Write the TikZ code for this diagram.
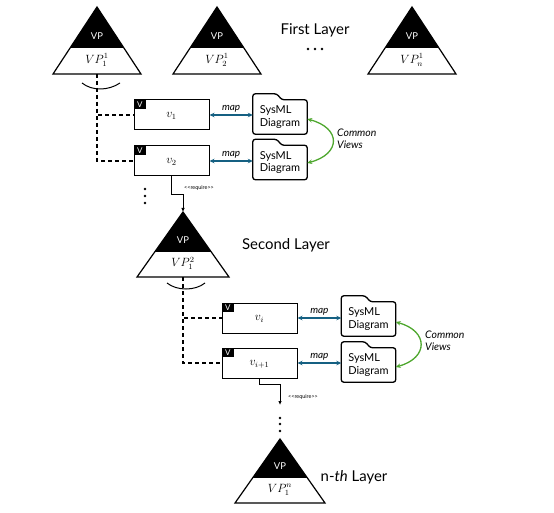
\documentclass[tikz,border=0pt]{standalone}
\usepackage{fontspec}
\setmainfont{Lato}
\usetikzlibrary{arrows.meta}
\definecolor{mapblue}{HTML}{156082}
\definecolor{cvgreen}{HTML}{4EA72E}
\newcommand\VPtri[6]{%
  \coordinate (#1a) at (#2,#3);
  \coordinate (#1b) at (#2,#3+#4);
  \fill (#2,#3) -- ++(-0.6*#5,0.6*#4) -- ++(1.2*#5,0) -- cycle;
  \draw[tri] (#2,#3) -- ++(-#5,#4) -- ++(2*#5,0) -- cycle;
  \draw[tri] (#2-0.6*#5,#3+0.6*#4) -- ++(1.2*#5,0);
  \node[vptext] (#1t) at (#2,#3+0.43*#4) {VP};
  \node[vplab] (#1l) at (#2,#3+0.79*#4) {#6};
}
\newcommand\Folder[3]{%
  \node[folder] (#1) at (#2,#3) {SysML\\Diagram};
  \draw[foldline] (#1.south west) -- ([yshift=6bp]#1.north west) -- ++(24,0) -- ++(5,6) -- (#1.north east) -- (#1.south east) -- cycle;
}
\newcommand\VBox[4]{%
  \node[vbox] (#1) at (#2,#3) {#4};
  \node[vtag,anchor=north west] (#1tag) at (#1.north west) {V};
}
\begin{document}
\begin{tikzpicture}[x=1bp,y=-1bp,
  tri/.style={line width=1.2bp},
  vptext/.style={text=white,font=\fontsize{9.5}{10}\selectfont,inner sep=0pt},
  vplab/.style={font=\fontsize{12}{13}\selectfont,inner sep=0pt},
  vbox/.style={draw,line width=1bp,minimum width=75bp,minimum height=30bp,inner sep=0pt,text depth=0pt,yshift=-1bp,font=\fontsize{12}{13}\selectfont},
  vtag/.style={fill=black,text=white,minimum width=12bp,minimum height=9bp,inner sep=0pt,font=\fontsize{8}{8}\selectfont},
  folder/.style={minimum width=54bp,minimum height=34bp,inner sep=0pt,align=left,font=\fontsize{11}{12.5}\selectfont},
  foldline/.style={line width=1.3bp,rounded corners=2.5bp},
  dashline/.style={line width=1.2bp,dash pattern=on 4bp off 3bp},
  maparrow/.style={mapblue,line width=1.2bp,{Stealth[length=5bp,width=4.5bp]}-{Stealth[length=5bp,width=4.5bp]}},
  maplab/.style={text=black,font=\fontsize{10}{11}\selectfont\itshape,inner sep=2bp},
  cvarrow/.style={cvgreen,line width=1.3bp,{Stealth[length=5bp,width=4.5bp]}-{Stealth[length=5bp,width=4.5bp]}},
  cvlab/.style={font=\fontsize{10.5}{12.5}\selectfont\itshape,align=left,inner sep=0pt,anchor=west},
  reqarrow/.style={line width=0.8bp,-{Latex[length=4bp,width=3.5bp]}},
  reqlab/.style={font=\fontsize{5.5}{6}\selectfont,inner sep=0pt},
  layer/.style={font=\fontsize{15}{16}\selectfont,inner sep=0pt},
  dot/.style={fill=black}
]
\useasboundingbox (0,0) rectangle (554,513);

% ---- first layer
\VPtri{t11}{97}{7}{67}{44}{$VP_1^1$}
\VPtri{t12}{217}{7}{67}{44}{$VP_2^1$}
\VPtri{t13}{412}{7}{67}{44}{$VP_n^1$}
\node[layer] (l1) at (315,30) {First Layer};
\foreach \x in {308,315,322} \fill[dot] (\x,49) circle (1.4);

\draw[line width=1bp] (82,83) .. controls (92,91) and (108,91) .. (120,83);

\VBox{v1}{171.5}{114}{$v_1$}
\VBox{v2}{171.5}{160}{$v_2$}
\draw[dashline] (t11b) |- (v1.west);
\draw[dashline] (t11b) |- (v2.west);

\Folder{f1}{280}{117}
\Folder{f2}{280}{162.5}
\draw[maparrow] (v1.east) -- (v1.east -| f1.west) node[midway,above,maplab] {map};
\draw[maparrow] (v2.east) -- (v2.east -| f2.west) node[midway,above,maplab] {map};
\draw[cvarrow] ([yshift=-2bp]f1.east) .. controls +(34,9) and +(34,-9) .. ([yshift=-0.5bp]f2.east);
\node[cvlab] (cv1) at (337,139) {Common\\Views};

\foreach \y in {189,196,203} \fill[dot] (145,\y) circle (1.4);

% ---- second layer
\VPtri{t21}{183}{212}{65}{46}{$VP_1^2$}
\draw[reqarrow] (v2.south) -- ++(0,18) -| (t21a);
\node[reqlab] (rq1) at (199,188) {<\kern0pt<require>\kern0pt>};
\node[layer] (l2) at (286,245) {Second Layer};

\draw[line width=1bp] (167,283) .. controls (177,291) and (195,291) .. (205,283);

\VBox{v3}{259.5}{317}{$v_i$}
\VBox{v4}{259.5}{362}{$v_{i+1}$}
\draw[dashline] (t21b) |- (v3.west);
\draw[dashline] (t21b) |- (v4.west);

\Folder{f3}{368.5}{319}
\Folder{f4}{368.5}{365}
\draw[maparrow] (v3.east) -- (v3.east -| f3.west) node[midway,above,maplab] {map};
\draw[maparrow] (v4.east) -- (v4.east -| f4.west) node[midway,above,maplab] {map};
\draw[cvarrow] ([yshift=-3bp]f3.east) .. controls +(33,9) and +(33,-9) .. ([yshift=-2bp]f4.east);
\node[cvlab] (cv2) at (425,341) {Common\\Views};

% ---- n-th layer
\coordinate (rq2end) at (280,405);
\draw[reqarrow] (v4.south) -- ++(0,6) -| (rq2end);
\node[reqlab] (rq2) at (303,397) {<\kern0pt<require>\kern0pt>};
\foreach \y in {418,424,431} \fill[dot] (280,\y) circle (1.4);

\VPtri{t31}{280}{439}{64}{45}{$VP_1^n$}
\node[layer] (l3) at (354,477) {n-\textit{th} Layer};
\end{tikzpicture}
\end{document}
